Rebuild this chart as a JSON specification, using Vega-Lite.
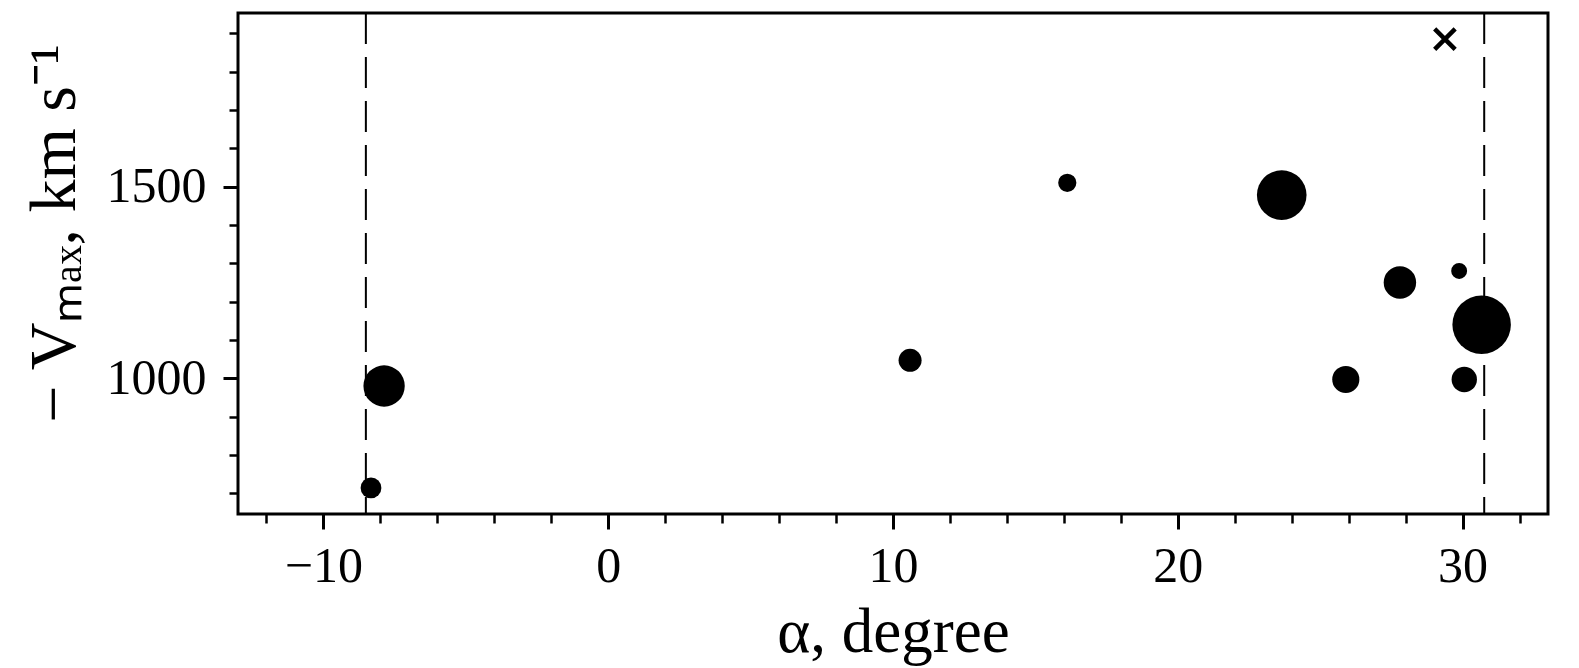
{
  "$schema": "https://vega.github.io/schema/vega-lite/v6.json",
  "width": 1310,
  "height": 501,
  "autosize": {"type": "none"},
  "padding": {"left": 238, "top": 13, "right": 31, "bottom": 154},
  "background": "white",
  "config": {
    "view": {"stroke": "black", "strokeWidth": 3},
    "axis": {
      "labelFont": "Liberation Serif",
      "titleFont": "Liberation Serif",
      "labelColor": "black",
      "titleColor": "black",
      "tickColor": "black",
      "domain": false,
      "grid": false,
      "titleFontWeight": "normal",
      "labelFontSize": 50
    }
  },
  "datasets": {
    "points": [
      {"alpha": -8.33, "vmax": 714, "w": 12.6},
      {"alpha": -7.87, "vmax": 980, "w": 49.9},
      {"alpha": 10.6, "vmax": 1047, "w": 15.5},
      {"alpha": 16.12, "vmax": 1510, "w": 9.7},
      {"alpha": 23.65, "vmax": 1478, "w": 72},
      {"alpha": 25.9, "vmax": 997, "w": 21.5},
      {"alpha": 27.8, "vmax": 1250, "w": 30.8},
      {"alpha": 29.88, "vmax": 1280, "w": 7.4},
      {"alpha": 30.06, "vmax": 997, "w": 18.8},
      {"alpha": 30.67, "vmax": 1140, "w": 100}
    ],
    "cross": [
      {"alpha": 29.38, "vmax": 1885}
    ],
    "limits": [
      {"alpha": -8.51},
      {"alpha": 30.76}
    ]
  },
  "layer": [
    {
      "data": {"name": "limits"},
      "mark": {"type": "rule", "strokeDash": [31, 13], "strokeWidth": 2, "color": "black"},
      "encoding": {
        "x": {"field": "alpha", "type": "quantitative", "scale": {"domain": [-13, 33], "nice": false, "zero": false}, "axis": null}
      }
    },
    {
      "data": {"name": "points"},
      "mark": {"type": "circle", "color": "black", "opacity": 1},
      "encoding": {
        "x": {
          "field": "alpha", "type": "quantitative",
          "scale": {"domain": [-13, 33], "nice": false, "zero": false},
          "axis": {
            "orient": "bottom", "values": [-10, 0, 10, 20, 30], "format": "d",
            "tickSize": 15, "tickWidth": 3, "labelPadding": 12,
            "title": "α, degree", "titleFontSize": 63, "titleBaseline": "alphabetic", "titleY": 137
          }
        },
        "y": {
          "field": "vmax", "type": "quantitative",
          "scale": {"domain": [646, 1953], "nice": false, "zero": false},
          "axis": {
            "orient": "left", "values": [1000, 1500], "format": "d",
            "tickSize": 15, "tickWidth": 3, "labelPadding": 17,
            "title": "− Vₘₐₓ,  km s⁻¹", "titleFontSize": 66, "titleAngle": 270,
            "titleBaseline": "alphabetic", "titleX": -164, "titleY": 220
          }
        },
        "size": {"field": "w", "type": "quantitative", "scale": {"domain": [0, 100], "range": [0, 3420], "zero": true}, "legend": null}
      }
    },
    {
      "data": {"name": "cross"},
      "mark": {"type": "point", "shape": "M-1,-1L1,1M-1,1L1,-1", "filled": false, "color": "black", "strokeWidth": 4.5, "size": 420, "opacity": 1},
      "encoding": {
        "x": {
          "field": "alpha", "type": "quantitative",
          "scale": {"domain": [-13, 33], "nice": false, "zero": false},
          "axis": {
            "orient": "bottom", "values": [-12, -8, -6, -4, -2, 2, 4, 6, 8, 12, 14, 16, 18, 22, 24, 26, 28, 32],
            "labels": false, "tickSize": 9, "tickWidth": 2.5, "title": null
          }
        },
        "y": {
          "field": "vmax", "type": "quantitative",
          "scale": {"domain": [646, 1953], "nice": false, "zero": false},
          "axis": {
            "orient": "left", "values": [700, 800, 900, 1100, 1200, 1300, 1400, 1600, 1700, 1800, 1900],
            "labels": false, "tickSize": 9, "tickWidth": 2.5, "title": null
          }
        }
      }
    }
  ],
  "resolve": {"axis": {"x": "independent", "y": "independent"}}
}
